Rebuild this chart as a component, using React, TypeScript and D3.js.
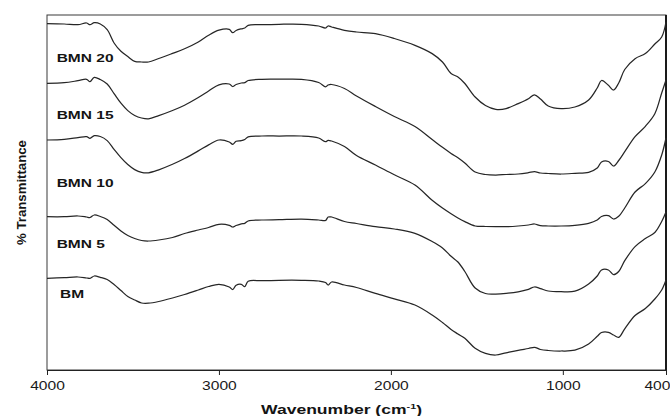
import { useEffect, useRef } from "react";
import * as d3 from "d3";

// wavenumber grid (cm-1), shared by every spectrum
const wavenumbers = [
  4000, 3900, 3820, 3770, 3750, 3725, 3690, 3650, 3610, 3570,
  3530, 3490, 3450, 3410, 3350, 3270, 3200, 3120, 3060, 3000,
  2940, 2920, 2900, 2870, 2850, 2830, 2750, 2650, 2520, 2420,
  2380, 2365, 2345, 2270, 2200, 2090, 1980, 1860, 1760, 1700,
  1650, 1610, 1570, 1510, 1450, 1390, 1330, 1260, 1200, 1165,
  1130, 1085, 1010, 930, 850, 800, 775, 735, 705, 675,
  640, 580, 520, 465, 425, 400,
];

// stacked transmittance traces (arbitrary units, offset per sample)
const bmn20 = [
  346.3, 346, 345.3, 347, 345.3, 347.3, 346, 340.3, 327, 318.7,
  313.4, 308.6, 308, 308, 311.5, 316.6, 321.2, 328, 334.8, 339.8,
  340.6, 337.3, 339.5, 341.2, 342, 344.7, 345.3, 345.7, 345.7, 344,
  342, 344, 343, 339.7, 338, 336.3, 331.5, 324.7, 316.4, 308,
  296.5, 293, 286.5, 273, 264.5, 260.7, 261.4, 266.4, 271.3, 275.2,
  271, 264, 261.3, 263, 270, 282, 289.5, 284.7, 280, 287,
  300.5, 311.3, 316.5, 326, 333, 348,
];

const bmn15 = [
  286.7, 287.3, 289.3, 290.7, 288.3, 292.7, 290.5, 286, 276.4, 266.8,
  259.4, 254.5, 252, 251.2, 254.4, 259.5, 264.8, 272.5, 279, 285.2,
  286, 283.5, 285.5, 287, 287.3, 289.5, 290.7, 290.8, 290.7, 287.5,
  283.2, 285, 285.5, 281.5, 274, 263.5, 253.5, 243.5, 230.5, 222.7,
  216.6, 212.3, 207, 198, 195.5, 195, 195.5, 196, 197.3, 198.3,
  197, 196.5, 196, 196.7, 197.7, 202, 208, 208.5, 204, 209.5,
  218.3, 233.3, 243.7, 256.3, 277, 290,
];

const bmn10 = [
  230, 230.7, 232.3, 233.3, 231.7, 234.3, 233.5, 229.4, 220.7, 212.4,
  205.5, 200.4, 197.6, 197.2, 200.2, 205.7, 211.5, 219.1, 225.1, 230,
  228, 225.7, 228.7, 229.3, 230.5, 233.2, 234, 234, 234, 232,
  228.3, 229.7, 229, 223.5, 214.5, 205, 195.2, 185, 169.7, 161.9,
  156.2, 152, 148.4, 144, 143.5, 143.3, 143.3, 144, 145, 146,
  144.3, 144, 144, 144.7, 146.7, 150, 153.5, 154.3, 151, 153.7,
  162, 178, 186.4, 198, 215, 232,
];

const bmn5 = [
  153.3, 153.3, 154, 153, 152.5, 155, 153.5, 150.5, 144.7, 139,
  134.5, 131.5, 129.5, 129, 130, 132.5, 136.5, 140, 142.5, 145.7,
  144.7, 143, 144.5, 146.2, 146.7, 149, 150, 150.3, 150.8, 150,
  149.5, 153, 153, 148.5, 146.5, 143.3, 141, 136.7, 128.5, 122,
  113.7, 108, 98.5, 82, 76.5, 76, 76.6, 78.2, 80.7, 83,
  81.4, 79, 78.3, 78.8, 86, 94, 100, 100, 95.3, 98.5,
  109.3, 123.4, 131.4, 137.5, 148.5, 158,
];

const bm = [
  91.7, 92.3, 93, 92, 91.7, 94, 92.7, 90.5, 85.5, 79.5,
  73.5, 70, 67, 66.8, 68.5, 72, 75.5, 80, 83.5, 85.7,
  83, 80.5, 84.7, 85.7, 83.3, 88.7, 89.3, 89.7, 89.7, 89,
  87.5, 85, 88, 85, 82.5, 76.6, 71.2, 65, 55, 47.5,
  40.5, 36, 31.7, 21.7, 16.6, 15, 17.2, 19.7, 21.5, 22.7,
  20.5, 19.5, 19, 19.8, 26, 33.7, 37.5, 37.7, 35, 32.7,
  41.2, 54.5, 61.5, 71, 80, 90,
];

const seriesNames = ["BMN 20", "BMN 15", "BMN 10", "BMN 5", "BM"];
const seriesValues = [bmn20, bmn15, bmn10, bmn5, bm];

// where each sample name sits (wavenumber, transmittance units)
const labelWavenumbers = [3944, 3944, 3944, 3944, 3924];
const labelValues = [308, 250.7, 183.3, 121.7, 72.3];

const xTicks = [4000, 3000, 2000, 1000, 400];

const W = 670;
const H = 416;
const FONT = "Arial, 'Liberation Sans', Helvetica, sans-serif";

export default function App() {
  const ref = useRef<SVGSVGElement | null>(null);

  useEffect(() => {
    if (!ref.current) return;
    const svg = d3.select(ref.current);
    svg.selectAll("*").remove();

    const margin = { top: 15, right: 4, bottom: 46, left: 47 };
    const x = d3.scaleLinear().domain([4000, 400]).range([margin.left, W - margin.right]);
    const y = d3.scaleLinear().domain([0, 355]).range([H - margin.bottom, margin.top]);

    // frame
    svg
      .append("rect")
      .attr("x", margin.left)
      .attr("y", margin.top)
      .attr("width", W - margin.right - margin.left)
      .attr("height", H - margin.bottom - margin.top)
      .attr("fill", "none")
      .attr("stroke", "#3a3a3a")
      .attr("stroke-width", 1);
    svg
      .append("line")
      .attr("x1", W - margin.right)
      .attr("x2", W - margin.right)
      .attr("y1", margin.top)
      .attr("y2", H - margin.bottom)
      .attr("stroke", "#1a1a1a")
      .attr("stroke-width", 2);

    // bottom axis
    const axis = svg
      .append("g")
      .attr("transform", `translate(0,${H - margin.bottom})`)
      .call(
        d3
          .axisBottom(x)
          .tickValues(xTicks)
          .tickSize(5)
          .tickSizeOuter(0)
          .tickPadding(6)
          .tickFormat(d3.format("d"))
      );
    axis.select(".domain").attr("stroke", "#222").attr("stroke-width", 1.2);
    axis.selectAll(".tick line").attr("stroke", "#222").attr("stroke-width", 1);
    axis
      .selectAll<SVGTextElement, number>(".tick text")
      .attr("font-family", FONT)
      .attr("font-size", 12)
      .attr("fill", "#1a1a1a")
      .attr("transform", "scale(1.3,1)")
      .filter((d) => d === 400)
      .attr("text-anchor", "end")
      .attr("x", 3);

    // spectra
    const line = d3
      .line<number>()
      .x((_, i) => x(wavenumbers[i]))
      .y((d) => y(d))
      .curve(d3.curveCatmullRom.alpha(0.5));

    svg
      .append("g")
      .selectAll("path")
      .data(seriesValues)
      .join("path")
      .attr("d", (d) => line(d))
      .attr("fill", "none")
      .attr("stroke", "#262626")
      .attr("stroke-width", 1.25)
      .attr("stroke-linejoin", "round");

    // sample labels
    svg
      .append("g")
      .selectAll("text")
      .data(seriesNames)
      .join("text")
      .attr("transform", (_, i) => `translate(${x(labelWavenumbers[i])},${y(labelValues[i])}) scale(1.35,1)`)
      .attr("font-family", FONT)
      .attr("font-size", 11.5)
      .attr("font-weight", "bold")
      .attr("fill", "#141414")
      .text((d) => d);

    // y title
    svg
      .append("text")
      .attr("transform", `translate(26,${(margin.top + H - margin.bottom) / 2}) rotate(-90) scale(1.1,1)`)
      .attr("text-anchor", "middle")
      .attr("font-family", FONT)
      .attr("font-size", 12)
      .attr("font-weight", "bold")
      .attr("fill", "#141414")
      .text("% Transmittance");

    // x title
    const xt = svg
      .append("text")
      .attr("transform", `translate(${(margin.left + W - margin.right) / 2 - 15},414) scale(1.35,1)`)
      .attr("text-anchor", "middle")
      .attr("font-family", FONT)
      .attr("font-size", 13)
      .attr("font-weight", "bold")
      .attr("fill", "#141414");
    xt.append("tspan").text("Wavenumber (cm");
    xt.append("tspan").attr("dy", -5).attr("font-size", 8).text("-1");
    xt.append("tspan").attr("dy", 5).text(")");
  }, []);

  return (
    <svg
      ref={ref}
      width={W}
      height={H}
      style={{ position: "absolute", left: 0, top: 0, background: "#fff" }}
    />
  );
}
